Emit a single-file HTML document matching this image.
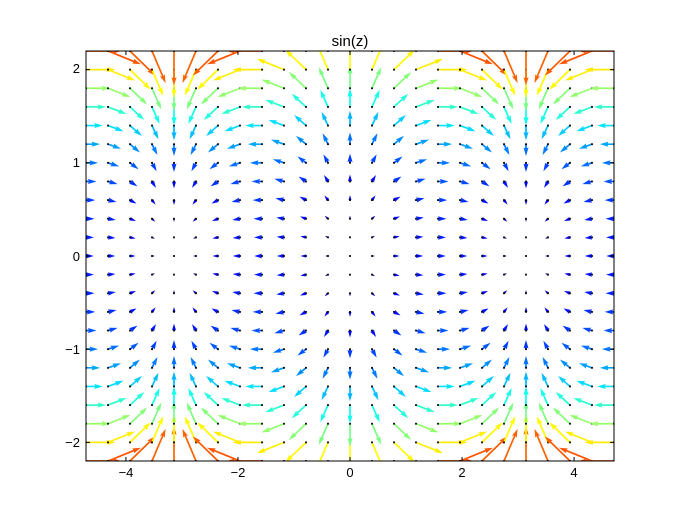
<!DOCTYPE html>
<html><head><meta charset="utf-8"><style>
html,body{margin:0;padding:0;background:#fff;}
svg{display:block;font-family:"Liberation Sans","DejaVu Sans",sans-serif;}
</style></head><body>
<svg id="s" width="683" height="512" viewBox="0 0 683 512" xmlns="http://www.w3.org/2000/svg">
<defs><clipPath id="c"><rect x="86" y="51" width="528" height="410"/></clipPath></defs>
<rect width="683" height="512" fill="#fff"/>
<g id="q" clip-path="url(#c)"></g>
<rect x="86" y="51" width="528" height="410" fill="none" stroke="#000" stroke-width="1"/>
<g id="t" stroke="#000" stroke-width="1"></g>
<text x="350" y="46" font-size="15" text-anchor="middle">sin(z)</text>
<g font-size="13" text-anchor="middle">
<text x="126" y="477">−4</text><text x="238" y="477">−2</text><text x="350" y="477">0</text><text x="462" y="477">2</text><text x="574" y="477">4</text>
</g>
<g font-size="13" text-anchor="end">
<text x="80" y="73">2</text><text x="80" y="167">1</text><text x="80" y="261">0</text><text x="80" y="354">−1</text><text x="80" y="447">−2</text>
</g>
</svg>
<script>
(function(){
var q=document.getElementById('q'),t=document.getElementById('t');
var X0=350,Y0=256,SX=528/(3*Math.PI),SY=410/4.4;
function px(x){return X0+x*SX;} function py(y){return Y0-y*SY;}
function cl(v){return Math.max(0,Math.min(1,v));}
function jet(v){return 'rgb('+Math.round(255*cl(1.5-Math.abs(4*v-3)))+','+Math.round(255*cl(1.5-Math.abs(4*v-2)))+','+Math.round(255*cl(1.5-Math.abs(4*v-1)))+')';}
var K=7.8,w=1.7,hw=3*w,hl=5*w,hal=4.5*w;
var out='';
for(var i=-12;i<=12;i++){for(var j=-11;j<=11;j++){
 var x=i*Math.PI/8,y=j*0.2;
 var u=Math.sin(x)*Math.cosh(y),v=Math.cos(x)*Math.sinh(y);
 var m=Math.sqrt(u*u+v*v);
 var X=px(x),Y=py(y);
 if(m>1e-9){
  var L=m*K,dx=u/m,dy=-v/m,nx=-dy,ny=dx;
  var s=1; if(L<hl){s=L/hl;}
  var ww=w*s/2,hh=hw*s/2,HL=hl*s,HA=hal*s;
  var pts=[[0,ww],[L-HA,ww],[L-HL,hh],[L,0],[L-HL,-hh],[L-HA,-ww],[0,-ww]];
  var p=pts.map(function(a){return (X+dx*a[0]+nx*a[1]).toFixed(2)+','+(Y+dy*a[0]+ny*a[1]).toFixed(2);}).join(' ');
  var tc=cl(0.15*Math.pow(m,1.1));
  out+='<polygon points="'+p+'" fill="'+jet(tc)+'"/>';
 }
 out+='<rect x="'+(X-0.9).toFixed(2)+'" y="'+(Y-0.9).toFixed(2)+'" width="1.8" height="1.8" fill="#000"/>';
}}
q.innerHTML=out;
var tk='';
[-4,-2,0,2,4].forEach(function(v){var X=px(v);tk+='<line x1="'+X+'" y1="461" x2="'+X+'" y2="457"/><line x1="'+X+'" y1="51" x2="'+X+'" y2="55"/>';});
[-2,-1,0,1,2].forEach(function(v){var Y=py(v);tk+='<line x1="86" y1="'+Y+'" x2="90" y2="'+Y+'"/><line x1="614" y1="'+Y+'" x2="610" y2="'+Y+'"/>';});
t.innerHTML=tk;
})();
</script>
</body></html>
